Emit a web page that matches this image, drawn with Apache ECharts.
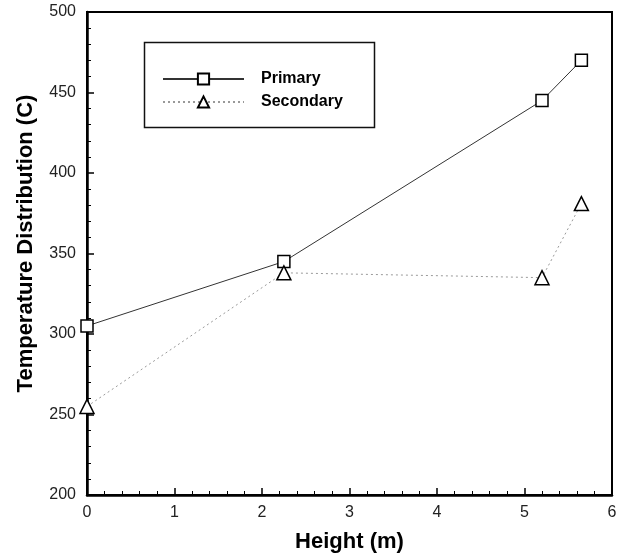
<!DOCTYPE html>
<html><head><meta charset="utf-8">
<script src="https://cdn.jsdelivr.net/npm/echarts@6/dist/echarts.min.js"></script>
<style>html,body{margin:0;padding:0;background:#fff}#c{width:628px;height:558px}</style>
</head><body><div id="c"></div>
<script>
const heights = [0, 2.25, 5.2, 5.65];
const primary = [305, 345, 445, 470];
const secondaryHeights = [0, 2.25, 5.2, 5.65];
const secondary = [255, 338, 335, 381];
const seriesNames = ['Primary', 'Secondary'];
const xTitle = 'Height (m)';
const yTitle = 'Temperature Distribution (C)';

const chart = echarts.init(document.getElementById('c'));
const font = 'Liberation Sans, Arial, sans-serif';
chart.setOption({
  animation: false,
  grid: {left: 87, top: 12, right: 16, bottom: 63, show: true, borderColor: '#000', borderWidth: 2, backgroundColor: 'transparent'},
  graphic: [{
    type: 'rect', left: 142, top: 40, z: 1,
    shape: {width: 230, height: 85},
    style: {fill: 'none', stroke: '#111', lineWidth: 1.5}
  }],
  legend: {
    left: 142, top: 40, orient: 'vertical',
    padding: [31, 20, 18, 20], itemGap: 7, itemWidth: 81, itemHeight: 14,
    borderWidth: 0,
    textStyle: {fontFamily: font, fontWeight: 'bold', fontSize: 16, color: '#000', padding: [0,0,0,12]},
    data: seriesNames
  },
  xAxis: {
    type: 'value', min: 0, max: 6, interval: 1,
    name: xTitle, nameLocation: 'middle', nameGap: 36,
    nameTextStyle: {fontFamily: font, fontWeight: 'bold', fontSize: 22, color: '#000'},
    axisLine: {show: true, lineStyle: {color: '#000', width: 2.5}},
    axisTick: {show: true, inside: true, length: 7, lineStyle: {color: '#000', width: 1.5}},
    minorTick: {show: true, splitNumber: 5, length: 4, lineStyle: {color: '#000', width: 1}},
    axisLabel: {fontFamily: font, fontSize: 16, color: '#222', margin: 10},
    splitLine: {show: false}
  },
  yAxis: {
    type: 'value', min: 200, max: 500, interval: 50,
    name: yTitle, nameLocation: 'middle', nameGap: 50,
    nameTextStyle: {fontFamily: font, fontWeight: 'bold', fontSize: 22, color: '#000', padding: [0, 0, 0, 20]},
    axisLine: {show: true, lineStyle: {color: '#000', width: 2.5}},
    axisTick: {show: true, inside: true, length: 7, lineStyle: {color: '#000', width: 1.5}},
    minorTick: {show: true, splitNumber: 5, length: 4, lineStyle: {color: '#000', width: 1}},
    axisLabel: {fontFamily: font, fontSize: 16, color: '#222', margin: 11},
    splitLine: {show: false}
  },
  series: [
    {
      name: seriesNames[0], type: 'line',
      data: heights.map((h, i) => [h, primary[i]]),
      symbol: 'rect', symbolSize: 12,
      lineStyle: {color: '#333', width: 1, type: 'solid'},
      itemStyle: {color: '#fff', borderColor: '#000', borderWidth: 1.5}
    },
    {
      name: seriesNames[1], type: 'line',
      data: secondaryHeights.map((h, i) => [h, secondary[i]]),
      symbol: 'triangle', symbolSize: 14,
      lineStyle: {color: '#999', width: 1, type: [2, 3]},
      itemStyle: {color: '#fff', borderColor: '#000', borderWidth: 1.5}
    }
  ]
});
</script>
</body></html>
